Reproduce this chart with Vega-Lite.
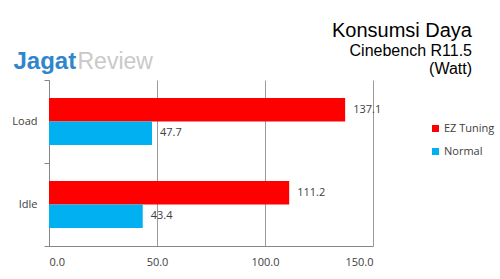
{
  "$schema": "https://vega.github.io/schema/vega-lite/v6.json",
  "width": 324,
  "height": 166,
  "autosize": "none",
  "padding": {"left": 49, "top": 80, "right": 127, "bottom": 33},
  "background": "white",
  "title": {
    "text": "Konsumsi Daya",
    "subtitle": ["Cinebench R11.5", "(Watt)"],
    "anchor": "end",
    "frame": "group",
    "dx": 99,
    "offset": -28,
    "font": "Liberation Sans",
    "fontSize": 20,
    "fontWeight": "normal",
    "color": "#000000",
    "subtitleFont": "Liberation Sans",
    "subtitleFontSize": 16,
    "subtitleColor": "#000000",
    "subtitleLineHeight": 18,
    "subtitlePadding": 2
  },
  "data": {
    "values": [
      {"state": "Load", "mode": "EZ Tuning", "watt": 137.1},
      {"state": "Load", "mode": "Normal", "watt": 47.7},
      {"state": "Idle", "mode": "EZ Tuning", "watt": 111.2},
      {"state": "Idle", "mode": "Normal", "watt": 43.4}
    ]
  },
  "encoding": {
    "y": {
      "field": "state",
      "type": "nominal",
      "sort": ["Load", "Idle"],
      "scale": {"paddingInner": 0, "paddingOuter": 0},
      "axis": {
        "title": "Jagat",
        "titleAngle": 0,
        "titleX": -36,
        "titleY": -12,
        "titleAlign": "left",
        "titleBaseline": "alphabetic",
        "titleFont": "Liberation Sans",
        "titleFontSize": 24,
        "titleFontWeight": "bold",
        "titleColor": "#2f86cc",
        "tickBand": "extent",
        "tickSize": 5,
        "tickColor": "#868686",
        "domainColor": "#868686",
        "labelFont": "Open Sans",
        "labelFontSize": 11,
        "labelColor": "#404040",
        "labelPadding": 7
      }
    },
    "yOffset": {
      "field": "mode",
      "type": "nominal",
      "sort": ["EZ Tuning", "Normal"],
      "scale": {"paddingInner": 0, "paddingOuter": 0.766}
    },
    "x": {
      "field": "watt",
      "type": "quantitative",
      "scale": {"domain": [0, 150], "nice": false},
      "axis": {
        "values": [0, 50, 100, 150],
        "format": ".1f",
        "title": "Review",
        "titleX": 28,
        "titleY": -178,
        "titleAlign": "left",
        "titleBaseline": "alphabetic",
        "titleFont": "Liberation Sans",
        "titleFontSize": 23,
        "titleFontWeight": "normal",
        "titleColor": "#c9c9c9",
        "ticks": false,
        "grid": true,
        "gridColor": "#9a9a9a",
        "domainColor": "#868686",
        "labelFont": "Open Sans",
        "labelFontSize": 11,
        "labelColor": "#404040",
        "labelPadding": 10
      }
    }
  },
  "layer": [
    {
      "mark": {"type": "bar"},
      "encoding": {
        "color": {
          "field": "mode",
          "type": "nominal",
          "sort": ["EZ Tuning", "Normal"],
          "scale": {"domain": ["EZ Tuning", "Normal"], "range": ["#ff0000", "#00b0f0"]},
          "legend": {
            "title": null,
            "orient": "none",
            "legendX": 381,
            "legendY": 43,
            "symbolType": "square",
            "symbolSize": 49,
            "symbolStrokeWidth": 0,
            "labelFont": "Open Sans",
            "labelFontSize": 11,
            "labelColor": "#404040",
            "labelOffset": 3,
            "rowPadding": 11
          }
        }
      }
    },
    {
      "mark": {"type": "text", "align": "left", "baseline": "middle", "dx": 8, "font": "Open Sans", "fontSize": 11, "color": "#404040"},
      "encoding": {
        "text": {"field": "watt", "type": "quantitative", "format": ".1f"}
      }
    }
  ],
  "config": {
    "view": {"stroke": null}
  }
}
